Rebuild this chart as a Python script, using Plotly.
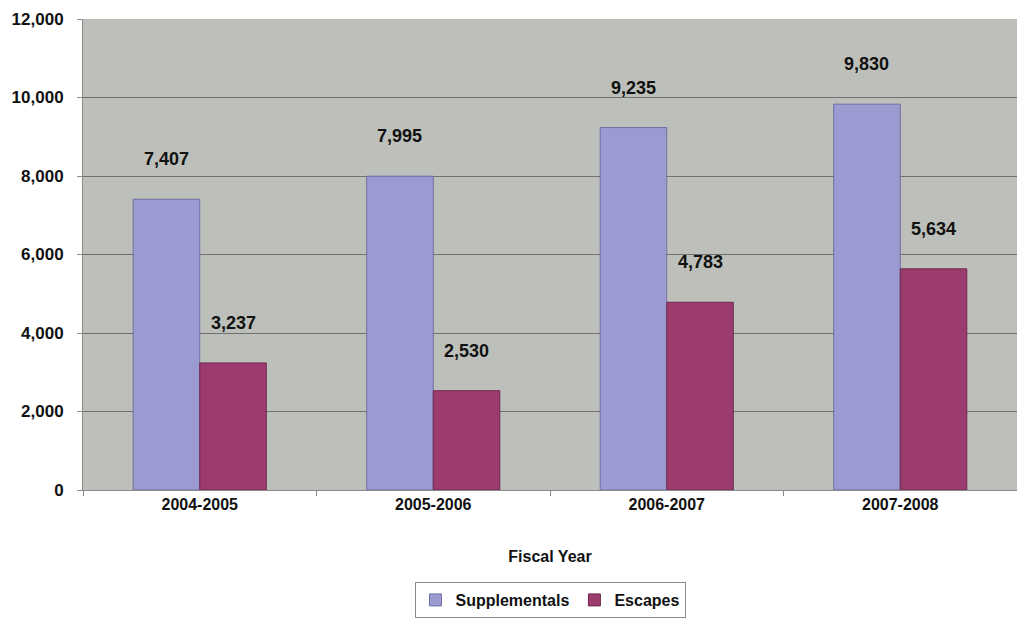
import plotly.graph_objects as go

categories = ["2004-2005", "2005-2006", "2006-2007", "2007-2008"]
supplementals = [7407, 7995, 9235, 9830]
escapes = [3237, 2530, 4783, 5634]
y_ticks = [0, 2000, 4000, 6000, 8000, 10000, 12000]

font_family = "Liberation Sans, Arial, sans-serif"
bargap = 0.43
half = (1 - bargap) / 4

fig = go.Figure()
fig.add_trace(go.Bar(
    name="<b>Supplementals</b>", x=categories, y=supplementals,
    marker=dict(color="#9B9BD1", line=dict(color="#6F6FA3", width=1)),
))
fig.add_trace(go.Bar(
    name="<b>Escapes</b>", x=categories, y=escapes,
    marker=dict(color="#9C3B6E", line=dict(color="#6E2850", width=1)),
))

annotations = []
for i, c in enumerate(categories):
    for val, off in ((supplementals[i], -half), (escapes[i], half)):
        annotations.append(dict(
            x=i + off, y=val, xref="x", yref="y",
            text=f"<b>{val:,}</b>", showarrow=False,
            yshift=40, font=dict(family=font_family, size=18, color="#111111"),
        ))

fig.update_layout(
    width=1017, height=618,
    margin=dict(l=83, r=0, t=19, b=128, autoexpand=False),
    paper_bgcolor="white", plot_bgcolor="#BDC0BA",
    barmode="group", bargap=bargap, bargroupgap=0,
    font=dict(family=font_family, color="#111111"),
    annotations=annotations,
    showlegend=True,
    legend=dict(
        orientation="h", x=0.5, xanchor="center",
        yref="container", y=-0.015, yanchor="bottom",
        bordercolor="#8A8A8A", borderwidth=1,
        font=dict(family=font_family, size=16, color="#111111"),
        itemwidth=30, tracegroupgap=0,
    ),
    xaxis=dict(
        automargin=False,
        title=dict(text="<b>Fiscal Year</b>", font=dict(size=16), standoff=38),
        tickfont=dict(size=16), ticktext=[f"<b>{c}</b>" for c in categories],
        tickvals=categories,
        showline=True, linecolor="#8A8A8A", linewidth=1,
        ticks="outside", tickson="boundaries", ticklen=5, tickcolor="#8A8A8A",
        showgrid=False,
    ),
    yaxis=dict(
        automargin=False,
        range=[0, 12000], tickvals=y_ticks,
        ticktext=[f"<b>{v:,}</b>" for v in y_ticks],
        tickfont=dict(size=17), ticklabelstandoff=10,
        showline=True, linecolor="#8A8A8A", linewidth=1,
        ticks="outside", ticklen=5, tickcolor="#8A8A8A",
        gridcolor="#707070", gridwidth=1, zeroline=False,
    ),
)

fig.write_html("out.html")
